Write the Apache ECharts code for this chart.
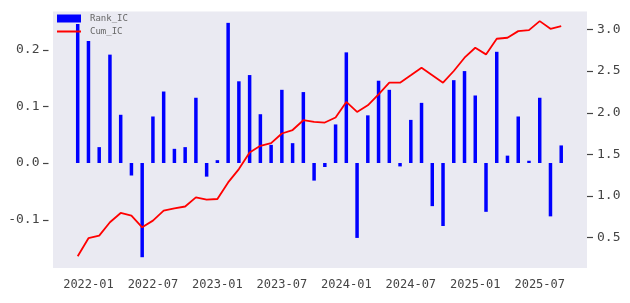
<!DOCTYPE html>
<html><head><meta charset="utf-8">
<script src="https://cdn.jsdelivr.net/npm/echarts@6/dist/echarts.min.js"></script>
<style>html,body{margin:0;padding:0;background:#fff}#c{width:630px;height:303px}</style>
</head><body><div id="c"></div>
<script>
const months = ['2021-12','2022-01','2022-02','2022-03','2022-04','2022-05','2022-06','2022-07','2022-08','2022-09','2022-10','2022-11','2022-12',
'2023-01','2023-02','2023-03','2023-04','2023-05','2023-06','2023-07','2023-08','2023-09','2023-10','2023-11','2023-12',
'2024-01','2024-02','2024-03','2024-04','2024-05','2024-06','2024-07','2024-08','2024-09','2024-10','2024-11','2024-12',
'2025-01','2025-02','2025-03','2025-04','2025-05','2025-06','2025-07','2025-08','2025-09'];
const rankIC = [0.245,0.215,0.028,0.191,0.085,-0.022,-0.166,0.082,0.126,0.025,0.028,
0.115,-0.024,0.005,0.247,0.144,0.155,0.086,0.032,0.129,0.035,0.125,-0.031,
-0.007,0.068,0.195,-0.132,0.084,0.145,0.129,-0.006,0.076,0.106,-0.076,
-0.111,0.146,0.162,0.119,-0.086,0.196,0.013,0.082,0.004,0.115,-0.094,0.031];
const cumIC = [0.272,0.488,0.52,0.68,0.792,0.76,0.62,0.70,0.82,0.848,0.87,
0.98,0.952,0.96,1.16,1.32,1.52,1.60,1.632,1.748,1.79,1.908,1.888,
1.88,1.94,2.128,2.008,2.088,2.22,2.36,2.36,2.448,2.54,2.45,
2.36,2.5,2.66,2.78,2.70,2.888,2.90,2.98,2.992,3.10,3.008,3.04];
const xTickLabels = ['2022-01','2022-07','2023-01','2023-07','2024-01','2024-07','2025-01','2025-07'];
const leftTicks = [-0.1, 0.0, 0.1, 0.2];
const rightTicks = [0.5, 1.0, 1.5, 2.0, 2.5, 3.0];

const FONT = 'DejaVu Sans Mono';
const X_MIN = -2.3, X_MAX = 47.4;
const xTickIdx = xTickLabels.map(l => months.indexOf(l));
const chart = echarts.init(document.getElementById('c'), null, {renderer: 'canvas'});
chart.setOption({
  animation: false,
  backgroundColor: '#ffffff',
  grid: {left: 53, right: 43, top: 11.5, bottom: 35, show: true, backgroundColor: '#EAEAF2', borderWidth: 0},
  legend: {
    orient: 'vertical', left: 56, top: 14, padding: 0, itemGap: 4,
    itemWidth: 24, itemHeight: 8,
    textStyle: {fontSize: 9, color: '#666', fontFamily: FONT, padding: [0, 0, 0, 4]},
    data: [{name: 'Rank_IC', icon: 'rect'},
           {name: 'Cum_IC', itemStyle: {opacity: 0, borderWidth: 0}}]
  },
  xAxis: {
    type: 'value', min: X_MIN, max: X_MAX,
    axisLine: {show: false}, axisTick: {show: false}, splitLine: {show: false},
    axisLabel: {customValues: xTickIdx, formatter: v => months[Math.round(v)],
      fontSize: 12, color: '#444', fontFamily: FONT, margin: 11}
  },
  yAxis: [{
    type: 'value', min: -0.185, max: 0.267, position: 'left', offset: 4.5,
    axisLine: {show: false}, splitLine: {show: false}, axisTick: {show: false},
    axisLabel: {customValues: leftTicks, formatter: v => v.toFixed(1),
      fontSize: 13, color: '#444', fontFamily: FONT, margin: 9}
  }, {
    type: 'value', min: 0.13, max: 3.216, position: 'right', offset: 0,
    axisLine: {show: false}, splitLine: {show: false}, axisTick: {show: false},
    axisLabel: {customValues: rightTicks, formatter: v => v.toFixed(1),
      fontSize: 13, color: '#444', fontFamily: FONT, margin: 10}
  }],
  series: [{
    name: 'Rank_IC', type: 'bar', yAxisIndex: 0, barWidth: 3.5,
    itemStyle: {color: '#0000ff'},
    data: rankIC.map((v, i) => [i, v]), z: 2
  }, {
    name: 'Cum_IC', type: 'line', yAxisIndex: 1, symbol: 'none',
    lineStyle: {color: '#ff0000', width: 1.8}, itemStyle: {color: '#ff0000'},
    data: cumIC.map((v, i) => [i, v]), z: 3
  }]
});
// tick marks, positioned through the axes' own scales
const xl = chart.convertToPixel({xAxisIndex: 0}, X_MIN);
const xr = chart.convertToPixel({xAxisIndex: 0}, X_MAX);
const els = [];
leftTicks.forEach(v => {
  const y = Math.round(chart.convertToPixel({yAxisIndex: 0}, v)) + 0.5;
  els.push({type: 'line', shape: {x1: xl - 10, y1: y, x2: xl - 4.5, y2: y}, style: {stroke: '#444', lineWidth: 1.2}, silent: true});
});
rightTicks.forEach(v => {
  const y = Math.round(chart.convertToPixel({yAxisIndex: 1}, v)) + 0.5;
  els.push({type: 'line', shape: {x1: xr, y1: y, x2: xr + 6, y2: y}, style: {stroke: '#444', lineWidth: 1.2}, silent: true});
});
chart.setOption({graphic: els});
</script>
</body></html>
